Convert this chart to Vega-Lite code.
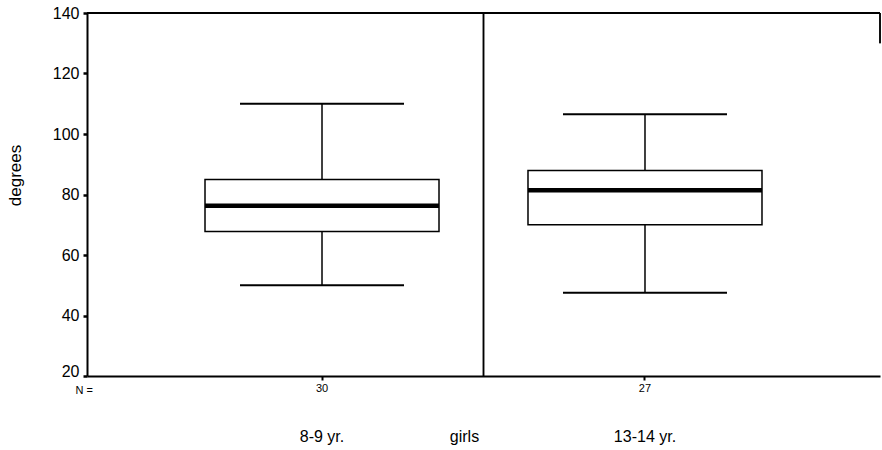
{
  "$schema": "https://vega.github.io/schema/vega-lite/v6.json",
  "width": 793,
  "height": 363,
  "autosize": {"type": "none"},
  "padding": {"left": 87, "top": 13, "right": 2, "bottom": 74},
  "background": "white",
  "config": {
    "view": {"stroke": null},
    "font": "Liberation Sans",
    "axis": {"domainColor": "black", "tickColor": "black", "labelColor": "black", "titleColor": "black", "grid": false}
  },
  "data": {
    "values": [
      {"group": "8-9 yr.", "n": 30, "lower": 50, "q1": 67.8, "median": 76.3, "q3": 85, "upper": 110},
      {"group": "13-14 yr.", "n": 27, "lower": 47.5, "q1": 70, "median": 81.4, "q3": 87.9, "upper": 106.5}
    ]
  },
  "resolve": {"axis": {"x": "independent", "y": "independent"}},
  "layer": [
    {
      "mark": {"type": "rule", "color": "black", "strokeWidth": 1.5},
      "encoding": {
        "x": {
          "field": "group", "type": "nominal", "sort": null,
          "scale": {"domain": ["8-9 yr.", "13-14 yr."], "paddingInner": 0, "paddingOuter": 0.2276},
          "axis": {
            "orient": "bottom", "title": "girls", "titleX": 377, "titleY": 65,
            "titleBaseline": "alphabetic", "titleAlign": "center", "titleFontSize": 16, "titleFontWeight": "normal",
            "labelFontSize": 16, "labelAngle": 0, "labelPadding": 65, "labelBaseline": "alphabetic",
            "ticks": false, "tickSize": 0, "domain": true, "domainWidth": 2
          }
        },
        "y": {
          "field": "lower", "type": "quantitative",
          "scale": {"domain": [20, 140], "nice": false, "zero": false},
          "axis": {
            "orient": "left",
            "title": "degrees", "values": [20, 40, 60, 80, 100, 120, 140],
            "tickSize": 4, "tickWidth": 2.5, "labelFontSize": 16, "labelPadding": 4,
            "labelBaseline": {"condition": {"test": "datum.value == 20", "value": "alphabetic"}, "value": "middle"},
            "labelFlush": false, "domain": true, "domainWidth": 2,
            "titleFontSize": 17, "titleFontWeight": "normal", "titleX": -72, "titleY": 162,
            "titleAlign": "center", "titleBaseline": "middle", "titleAngle": 270
          }
        },
        "y2": {"field": "upper"}
      }
    },
    {
      "mark": {"type": "tick", "color": "black", "thickness": 2, "size": 164, "opacity": 1},
      "encoding": {
        "x": {"field": "group", "type": "nominal", "sort": null, "axis": null},
        "y": {"field": "lower", "type": "quantitative", "axis": null}
      }
    },
    {
      "mark": {"type": "tick", "color": "black", "thickness": 2, "size": 164, "opacity": 1},
      "encoding": {
        "x": {"field": "group", "type": "nominal", "sort": null, "axis": null},
        "y": {"field": "upper", "type": "quantitative", "axis": null}
      }
    },
    {
      "mark": {"type": "bar", "fill": "white", "stroke": "black", "strokeWidth": 1.5, "size": 234, "opacity": 1},
      "encoding": {
        "x": {"field": "group", "type": "nominal", "sort": null, "axis": null},
        "y": {"field": "q1", "type": "quantitative", "axis": null},
        "y2": {"field": "q3"}
      }
    },
    {
      "mark": {"type": "tick", "color": "black", "thickness": 4.5, "size": 234, "opacity": 1},
      "encoding": {
        "x": {
          "field": "group", "type": "nominal", "sort": null,
          "axis": {
            "orient": "bottom", "labelExpr": "datum.value == '8-9 yr.' ? '30' : '27'",
            "labelFontSize": 11, "labelPadding": 2, "labelAngle": 0, "tickSize": 4, "tickWidth": 2, "domain": false,
            "title": "N =", "titleFontSize": 11, "titleFontWeight": "normal",
            "titleX": -12, "titleY": 17, "titleAlign": "left", "titleBaseline": "alphabetic"
          }
        },
        "y": {"field": "median", "type": "quantitative", "axis": null}
      }
    },
    {
      "mark": {"type": "rule", "color": "black", "strokeWidth": 1.5},
      "encoding": {
        "x": {"datum": "13-14 yr.", "bandPosition": 0, "axis": null}
      }
    },
    {
      "mark": {"type": "rule", "color": "black", "strokeWidth": 2},
      "encoding": {
        "y": {"datum": 140, "axis": null}
      }
    },
    {
      "mark": {"type": "rule", "color": "black", "strokeWidth": 1.5},
      "encoding": {
        "x": {"datum": "13-14 yr.", "bandPosition": 1.2276, "axis": null},
        "y": {"datum": 140, "axis": null},
        "y2": {"datum": 130}
      }
    }
  ]
}
